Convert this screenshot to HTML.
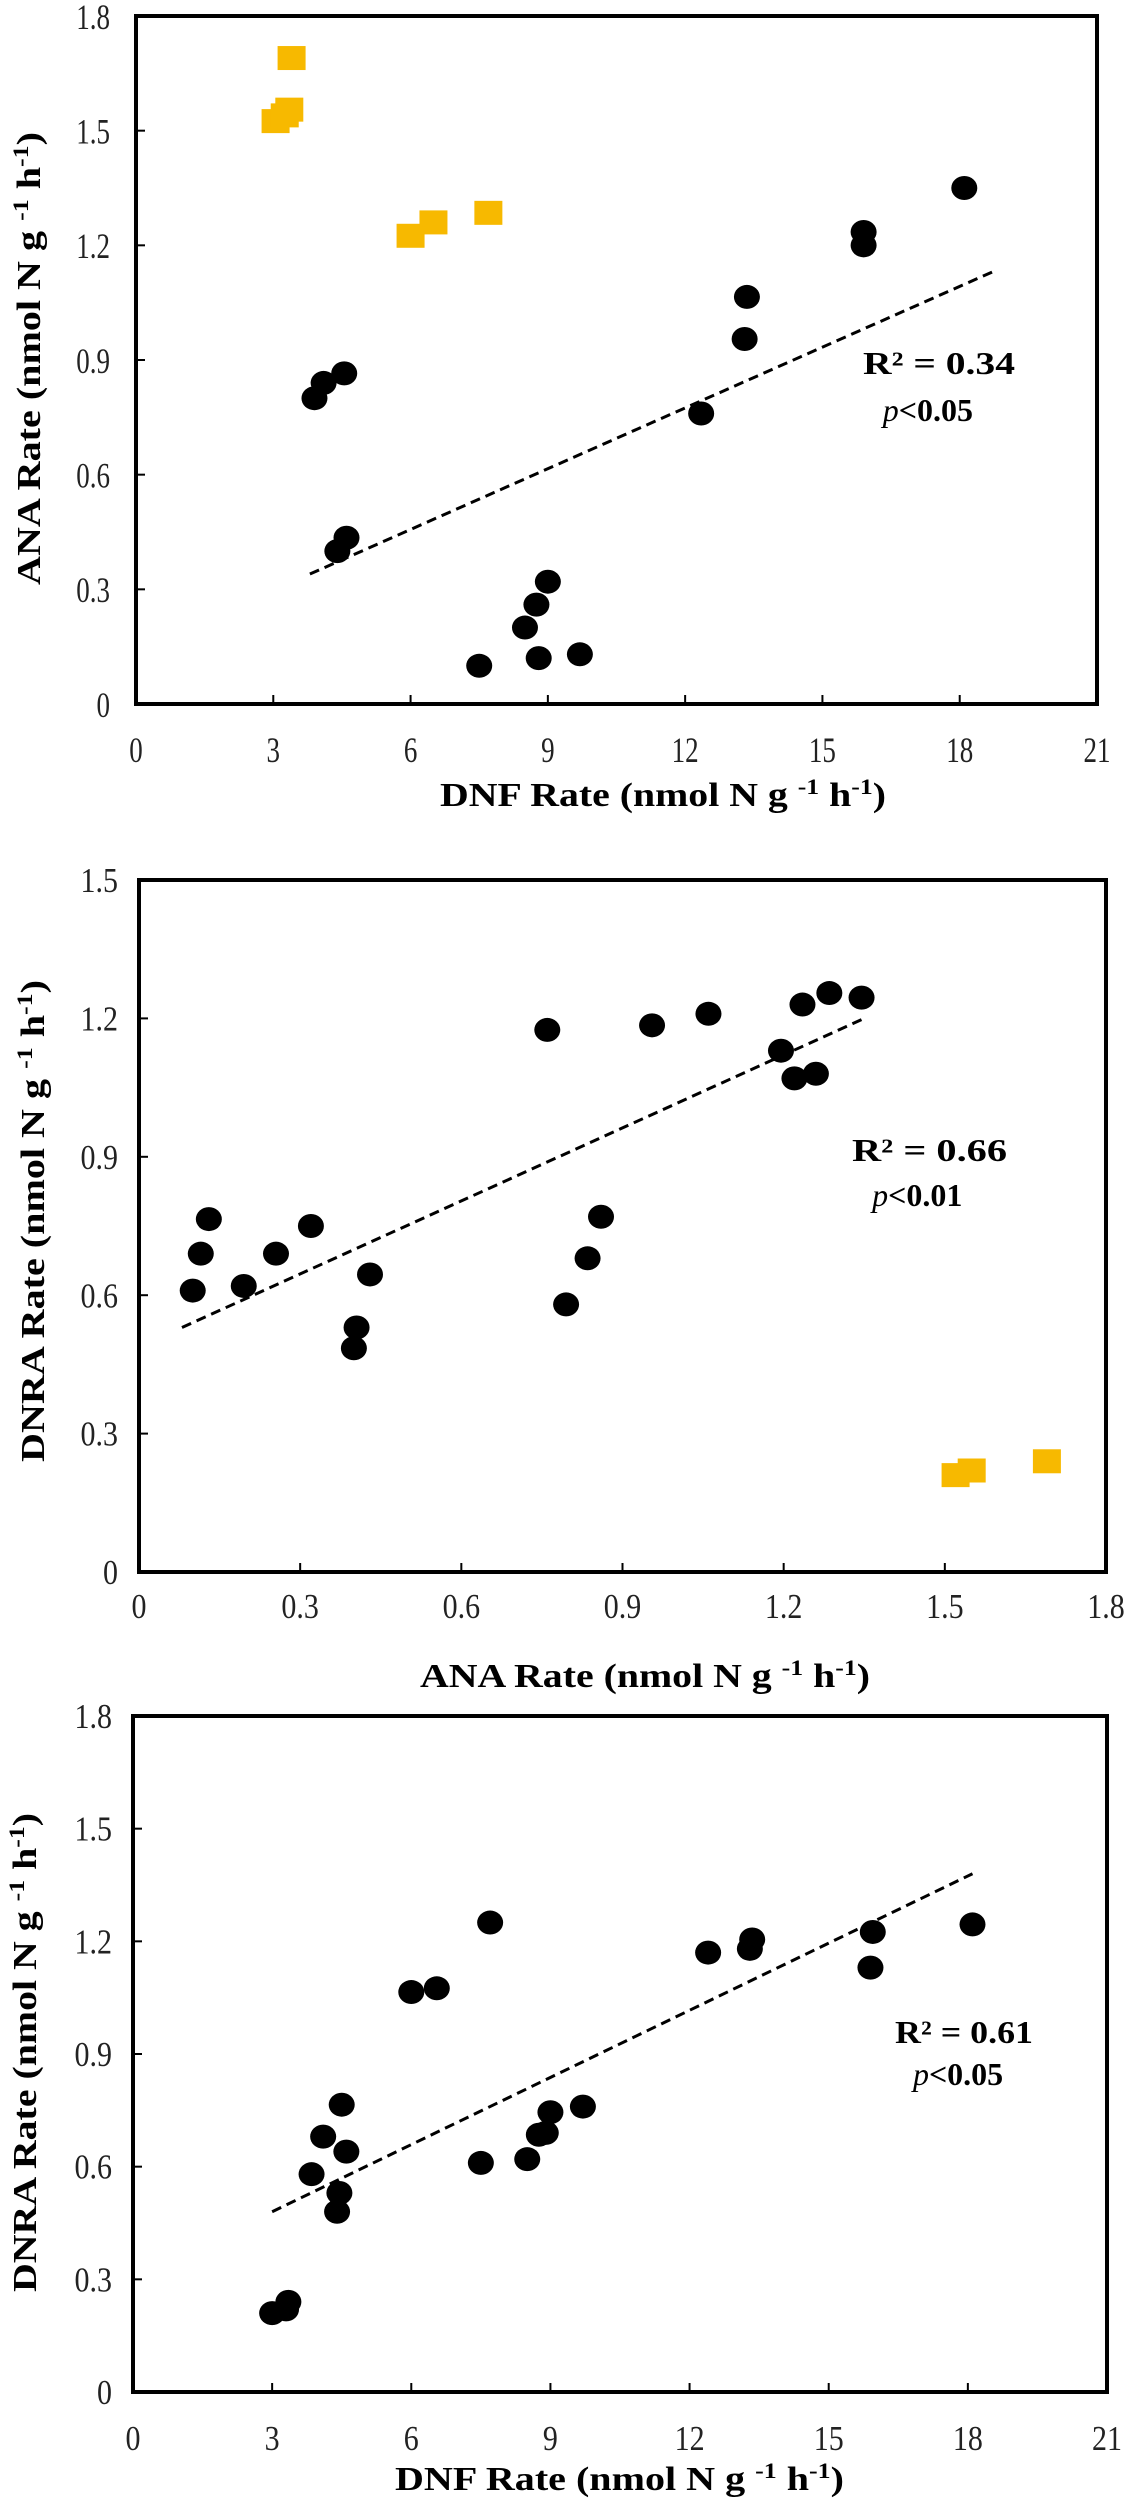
<!DOCTYPE html>
<html><head><meta charset="utf-8"><style>
html,body{margin:0;padding:0;background:#fff;}
svg{display:block;font-family:"Liberation Serif",serif;}
</style></head><body>
<svg id="fig" width="1136" height="2500" viewBox="0 0 1136 2500" xmlns="http://www.w3.org/2000/svg"></svg>
<script>
// Panel 1: DNF vs ANA
const p1BlackX = [3.9,4.1,4.55,4.4,4.6,7.5,8.5,8.75,9.0,8.8,9.7,12.35,13.3,13.35,15.9,15.9,18.1];
const p1BlackY = [0.80,0.84,0.865,0.40,0.435,0.10,0.20,0.26,0.32,0.12,0.13,0.76,0.955,1.065,1.20,1.235,1.35];
const p1YellowX = [3.05,3.25,3.35,3.4,6.0,6.5,7.7];
const p1YellowY = [1.525,1.54,1.555,1.69,1.225,1.26,1.285];
const p1Trend = [[3.8,0.34],[18.8,1.135]];
// Panel 2: ANA vs DNRA
const p2BlackX = [0.10,0.115,0.13,0.195,0.255,0.32,0.40,0.405,0.43,0.76,0.795,0.835,0.86,0.955,1.06,1.195,1.22,1.235,1.26,1.285,1.345];
const p2BlackY = [0.61,0.69,0.765,0.62,0.69,0.75,0.485,0.53,0.645,1.175,0.58,0.68,0.77,1.185,1.21,1.13,1.07,1.23,1.08,1.255,1.245];
const p2YellowX = [1.52,1.55,1.69];
const p2YellowY = [0.21,0.22,0.24];
const p2Trend = [[0.08,0.53],[1.35,1.20]];
// Panel 3: DNF vs DNRA
const p3BlackX = [3.0,3.3,3.35,3.85,4.1,4.4,4.45,4.5,4.6,6.0,6.55,7.5,7.7,8.5,8.75,8.9,9.0,9.7,12.4,13.3,13.35,15.9,15.95,18.1];
const p3BlackY = [0.21,0.22,0.24,0.58,0.68,0.48,0.53,0.765,0.64,1.065,1.075,0.61,1.25,0.62,0.685,0.69,0.745,0.76,1.17,1.18,1.205,1.13,1.225,1.245];
const p3Trend = [[3.0,0.48],[18.1,1.38]];
// Tick labels
const dnfTicks = [0,3,6,9,12,15,18,21];
const rate18Ticks = [0,0.3,0.6,0.9,1.2,1.5,1.8];
const rate15Ticks = [0,0.3,0.6,0.9,1.2,1.5];
const anaTicks = [0,0.3,0.6,0.9,1.2,1.5,1.8];

const NS = "http://www.w3.org/2000/svg";
const svg = document.getElementById('fig');
function mk(tag, attrs, parent){
  const e = document.createElementNS(NS, tag);
  for (const k in attrs) e.setAttribute(k, attrs[k]);
  (parent||svg).appendChild(e);
  return e;
}
function fmt(v){ return v===0 ? "0" : String(v); }

function panel(cfg){
  const g = mk('g', {});
  
  
  const sx = v => cfg.L + (v - cfg.xmin)/(cfg.xmax - cfg.xmin)*(cfg.R - cfg.L);
  const sy = v => cfg.B - (v - cfg.ymin)/(cfg.ymax - cfg.ymin)*(cfg.B - cfg.T);
  const frame = mk('rect', {x:cfg.L, y:cfg.T, width:cfg.R-cfg.L, height:cfg.B-cfg.T, fill:'none', stroke:'#000', 'stroke-width':4}, g);
  
  
  // x ticks
  cfg.xt.forEach(v => {
    const x = sx(v);
    const t = mk('line', {x1:x, x2:x, y1:cfg.B, y2:cfg.B-9, stroke:'#000','stroke-width':2}, g);
    
    
    const lab = mk('text', {x:0, y:0, 'text-anchor':'middle', 'font-size':cfg.tf, transform:`translate(${x},${cfg.xly}) scale(1,${cfg.ts})`, fill:'#222'}, g);
    lab.textContent = fmt(v);
    
    
  });
  cfg.yt.forEach(v => {
    const y = sy(v);
    const t = mk('line', {x1:cfg.L, x2:cfg.L+9, y1:y, y2:y, stroke:'#000','stroke-width':2}, g);
    
    
    const lab = mk('text', {x:0, y:0, 'text-anchor':'end', 'font-size':cfg.tf, transform:`translate(${cfg.ylx},${y+cfg.tf*0.35*cfg.ts}) scale(1,${cfg.ts})`, fill:'#222'}, g);
    lab.textContent = fmt(v);
    
    
  });
  // trend
  const tl = mk('line', {x1:sx(cfg.trend[0][0]), y1:sy(cfg.trend[0][1]), x2:sx(cfg.trend[1][0]), y2:sy(cfg.trend[1][1]), stroke:'#000','stroke-width':3,'stroke-dasharray':'10,6'}, g);
  
  
  // yellow squares
  (cfg.yx||[]).forEach((xv,i) => {
    const s = mk('rect', {x:sx(xv)-14, y:sy(cfg.yy[i])-12, width:28, height:24, fill:'#f7b900'}, g);
    
    
  });
  cfg.bx.forEach((xv,i) => {
    const c = mk('ellipse', {cx:sx(xv), cy:sy(cfg.by[i]), rx:13, ry:12, fill:'#000'}, g);
    
    
  });
  // titles
  const xt = mk('text', {x:(cfg.xtx0+cfg.xtx1)/2, y:cfg.xty, 'text-anchor':'middle', 'font-size':34, 'font-weight':'bold', textLength:cfg.xtx1-cfg.xtx0, lengthAdjust:'spacingAndGlyphs'}, g);
  xt.innerHTML = cfg.xtitle;
  
  
  const yc = (cfg.yty0+cfg.yty1)/2;
  const yt = mk('text', {x:0, y:0, 'text-anchor':'middle', 'font-size':34, 'font-weight':'bold', textLength:cfg.yty1-cfg.yty0, lengthAdjust:'spacingAndGlyphs', transform:`translate(${cfg.ytx},${yc}) rotate(-90)`}, g);
  yt.innerHTML = cfg.ytitle;
  
  
  const r2 = mk('text', {x:cfg.ax, y:cfg.ay, 'font-size':32, 'font-weight':'bold', textLength:cfg.aw, lengthAdjust:'spacingAndGlyphs'}, g);
  r2.innerHTML = cfg.r2;
  
  
  const pv = mk('text', {x:cfg.ax+cfg.aw*0.13, y:cfg.ay+cfg.pdy, 'font-size':32, 'font-weight':'bold'}, g);
  pv.innerHTML = '<tspan font-style="italic" font-weight="normal">p</tspan>&lt;' + cfg.p;
  
  
}

panel({name:'panel-dnf-vs-ana', L:136, R:1097, T:16, B:704, xmin:0, xmax:21, ymin:0, ymax:1.8,
  xt:dnfTicks, yt:rate18Ticks, tf:27, ts:1.35, xly:762, ylx:110,
  bx:p1BlackX, by:p1BlackY, yx:p1YellowX, yy:p1YellowY, trend:p1Trend,
  xtitle:'DNF Rate (nmol N g <tspan dy="-12" font-size="22">-1</tspan><tspan dy="12"> h</tspan><tspan dy="-12" font-size="22">-1</tspan><tspan dy="12">)</tspan>',
  xtx0:440, xtx1:886, xty:806,
  ytitle:'ANA Rate (nmol N g <tspan dy="-12" font-size="22">-1</tspan><tspan dy="12"> h</tspan><tspan dy="-12" font-size="22">-1</tspan><tspan dy="12">)</tspan>',
  yty0:132, yty1:585, ytx:40,
  r2:'R² = 0.34', p:'0.05', ax:863, ay:374, aw:152, pdy:47});

panel({name:'panel-ana-vs-dnra', L:139, R:1106, T:880, B:1572, xmin:0, xmax:1.8, ymin:0, ymax:1.5,
  xt:anaTicks, yt:rate15Ticks, tf:30, ts:1.15, xly:1618, ylx:118,
  bx:p2BlackX, by:p2BlackY, yx:p2YellowX, yy:p2YellowY, trend:p2Trend,
  xtitle:'ANA Rate (nmol N g <tspan dy="-12" font-size="22">-1</tspan><tspan dy="12"> h</tspan><tspan dy="-12" font-size="22">-1</tspan><tspan dy="12">)</tspan>',
  xtx0:420, xtx1:870, xty:1687,
  ytitle:'DNRA Rate (nmol N g <tspan dy="-12" font-size="22">-1</tspan><tspan dy="12"> h</tspan><tspan dy="-12" font-size="22">-1</tspan><tspan dy="12">)</tspan>',
  yty0:980, yty1:1462, ytx:44,
  r2:'R² = 0.66', p:'0.01', ax:852, ay:1161, aw:155, pdy:45});

panel({name:'panel-dnf-vs-dnra', L:133, R:1107, T:1716, B:2392, xmin:0, xmax:21, ymin:0, ymax:1.8,
  xt:dnfTicks, yt:rate18Ticks, tf:30, ts:1.15, xly:2450, ylx:112,
  bx:p3BlackX, by:p3BlackY, trend:p3Trend,
  xtitle:'DNF Rate (nmol N g <tspan dy="-12" font-size="22">-1</tspan><tspan dy="12"> h</tspan><tspan dy="-12" font-size="22">-1</tspan><tspan dy="12">)</tspan>',
  xtx0:395, xtx1:844, xty:2490,
  ytitle:'DNRA Rate (nmol N g <tspan dy="-12" font-size="22">-1</tspan><tspan dy="12"> h</tspan><tspan dy="-12" font-size="22">-1</tspan><tspan dy="12">)</tspan>',
  yty0:1813, yty1:2292, ytx:36,
  r2:'R² = 0.61', p:'0.05', ax:895, ay:2043, aw:138, pdy:42});
</script>
</body></html>
